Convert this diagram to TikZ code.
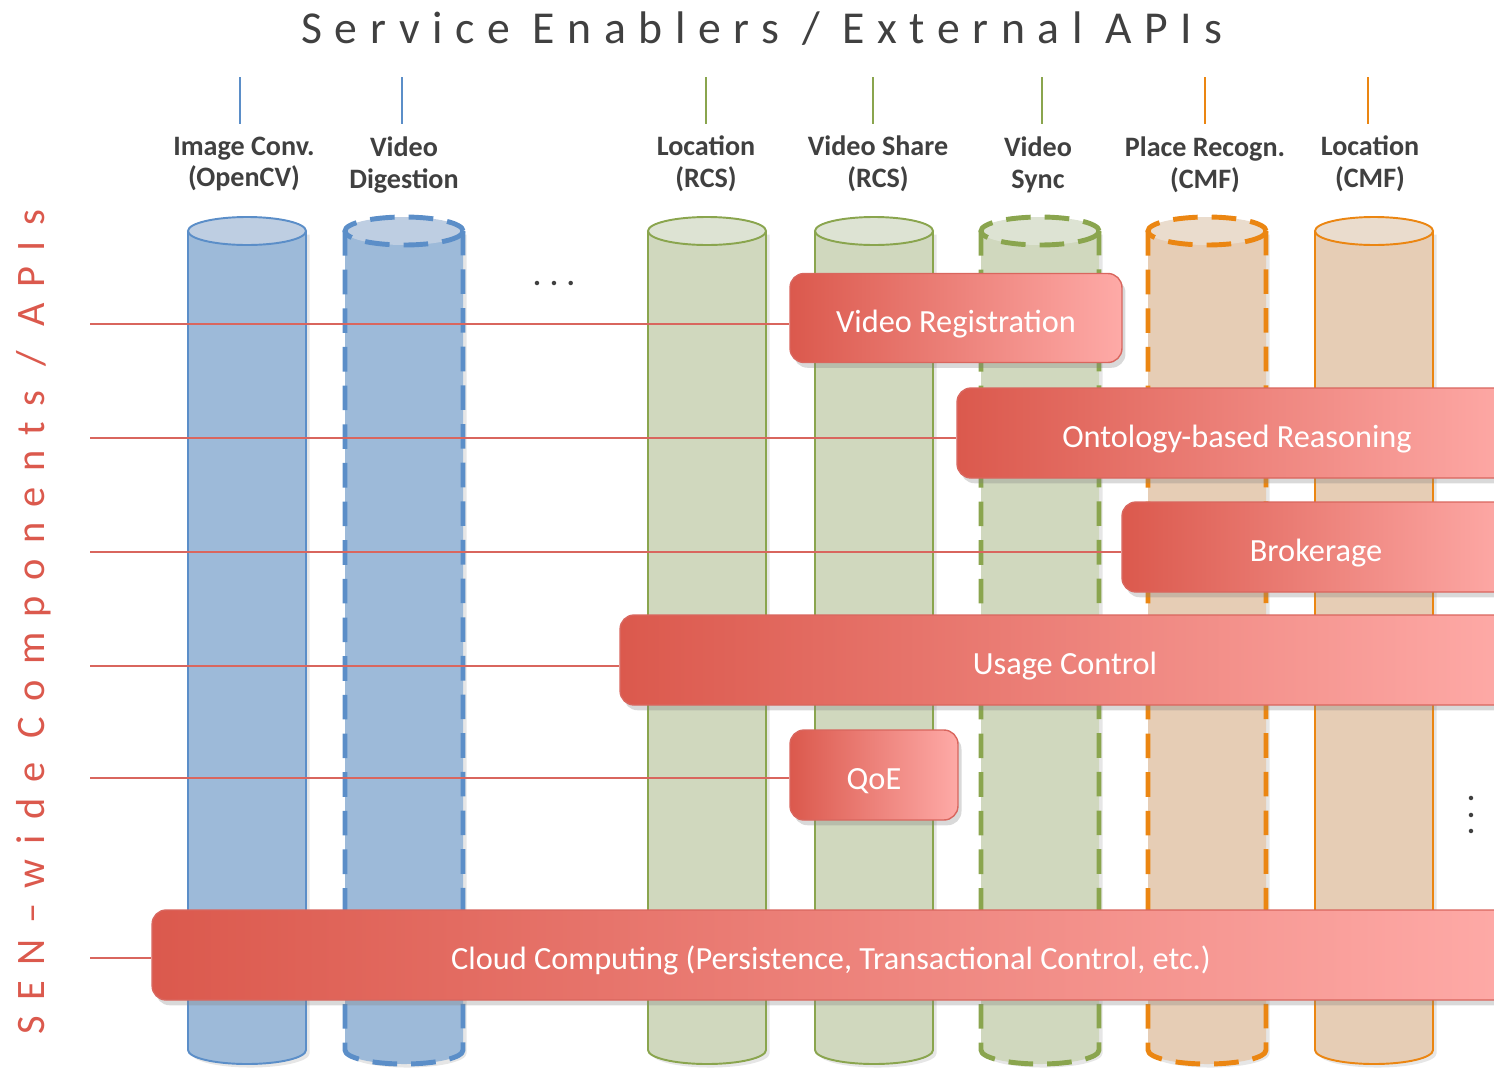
\documentclass[tikz,border=0pt]{standalone}
\usepackage{fontspec}
\setmainfont{Carlito}
\usetikzlibrary{shadows}
\definecolor{B1}{RGB}{157,186,217}
\definecolor{B2}{RGB}{190,206,226}
\definecolor{B3}{RGB}{91,142,200}
\definecolor{G1}{RGB}{208,216,190}
\definecolor{G2}{RGB}{221,227,211}
\definecolor{G3}{RGB}{138,165,78}
\definecolor{O1}{RGB}{230,205,181}
\definecolor{O2}{RGB}{234,220,205}
\definecolor{O3}{RGB}{235,134,18}
\definecolor{R1}{RGB}{219,89,77}
\definecolor{R2}{RGB}{254,170,167}
\definecolor{R3}{RGB}{217,102,94}
\definecolor{T1}{RGB}{64,64,64}

\begin{document}
\begin{tikzpicture}[x=0.02cm, y=-0.02cm,
    lab/.style={font=\fontsize{16}{18}\selectfont\bfseries, text=T1, align=center},
    tick/.style={line width=0.8pt},
    cylline/.style={line width=1.1pt},
    cyldash/.style={line width=2.8pt, dash pattern=on 14pt off 8pt},
    body/.style={drop shadow={opacity=.2, shadow xshift=2pt, shadow yshift=-2pt}},
    box/.style={draw=R3, line width=0.8pt, rounded corners=8pt, left color=R1, right color=R2,
      text=white, font=\fontsize{18.4}{22}\selectfont, inner sep=0pt, text height=16pt, text depth=0pt,
      drop shadow={opacity=.3, shadow xshift=2pt, shadow yshift=-3pt}},
    link/.style={R3, line width=0.9pt}]
      \useasboundingbox (0,0) rectangle (1494,1069);
      \clip (0,0) rectangle (1494,1069);
      % titles
      \node[font=\fontsize{26}{30}\selectfont\addfontfeature{LetterSpace=27.5}, text=T1, anchor=base] (top) at (762,43) {Service Enablers / External  APIs};
      \node[font=\fontsize{23}{26}\selectfont\addfontfeature{LetterSpace=38}, text=R1, rotate=90, anchor=base] (side) at (44,622) {SEN–wide Components / APIs};
      % columns
      \fill[B1, body] (188,231) -- (188,1050) arc[start angle=180, end angle=0, x radius=59, y radius=14] -- (306,231) -- cycle;
      \draw[B3, cylline] (188,231) -- (188,1050) arc[start angle=180, end angle=0, x radius=59, y radius=14] -- (306,231);
      \draw[B3, cylline, fill=B2] (247,231) ellipse[x radius=59, y radius=14];
      \fill[B1, body] (345,231) -- (345,1050) arc[start angle=180, end angle=0, x radius=59, y radius=14] -- (463,231) -- cycle;
      \draw[B3, cyldash] (345,231) -- (345,1050) arc[start angle=180, end angle=0, x radius=59, y radius=14] -- (463,231);
      \draw[B3, cyldash, fill=B2] (404,231) ellipse[x radius=59, y radius=14];
      \fill[G1, body] (648,231) -- (648,1050) arc[start angle=180, end angle=0, x radius=59, y radius=14] -- (766,231) -- cycle;
      \draw[G3, cylline] (648,231) -- (648,1050) arc[start angle=180, end angle=0, x radius=59, y radius=14] -- (766,231);
      \draw[G3, cylline, fill=G2] (707,231) ellipse[x radius=59, y radius=14];
      \fill[G1, body] (815,231) -- (815,1050) arc[start angle=180, end angle=0, x radius=59, y radius=14] -- (933,231) -- cycle;
      \draw[G3, cylline] (815,231) -- (815,1050) arc[start angle=180, end angle=0, x radius=59, y radius=14] -- (933,231);
      \draw[G3, cylline, fill=G2] (874,231) ellipse[x radius=59, y radius=14];
      \fill[G1, body] (981,231) -- (981,1050) arc[start angle=180, end angle=0, x radius=59, y radius=14] -- (1099,231) -- cycle;
      \draw[G3, cyldash] (981,231) -- (981,1050) arc[start angle=180, end angle=0, x radius=59, y radius=14] -- (1099,231);
      \draw[G3, cyldash, fill=G2] (1040,231) ellipse[x radius=59, y radius=14];
      \fill[O1, body] (1148,231) -- (1148,1050) arc[start angle=180, end angle=0, x radius=59, y radius=14] -- (1266,231) -- cycle;
      \draw[O3, cyldash] (1148,231) -- (1148,1050) arc[start angle=180, end angle=0, x radius=59, y radius=14] -- (1266,231);
      \draw[O3, cyldash, fill=O2] (1207,231) ellipse[x radius=59, y radius=14];
      \fill[O1, body] (1315,231) -- (1315,1050) arc[start angle=180, end angle=0, x radius=59, y radius=14] -- (1433,231) -- cycle;
      \draw[O3, cylline] (1315,231) -- (1315,1050) arc[start angle=180, end angle=0, x radius=59, y radius=14] -- (1433,231);
      \draw[O3, cylline, fill=O2] (1374,231) ellipse[x radius=59, y radius=14];
      % column labels
      \node[lab] (img) at (244,164) {Image Conv.\\(OpenCV)};
      \node[lab] (dig) at (404,165) {Video\\Digestion};
      \node[lab] (locr) at (706,164) {Location\\(RCS)};
      \node[lab] (share) at (878,164) {Video Share\\(RCS)};
      \node[lab] (sync) at (1038,165) {Video\\Sync};
      \node[lab] (place) at (1205,165) {Place Recogn.\\(CMF)};
      \node[lab] (locc) at (1370,164) {Location\\(CMF)};
      \coordinate (t1a) at (240,77); \coordinate (t1b) at (240,124);
      \coordinate (t2a) at (402,77); \coordinate (t2b) at (402,124);
      \coordinate (t3a) at (706,77); \coordinate (t3b) at (706,124);
      \coordinate (t4a) at (873,77); \coordinate (t4b) at (873,124);
      \coordinate (t5a) at (1042,77); \coordinate (t5b) at (1042,124);
      \coordinate (t6a) at (1205,77); \coordinate (t6b) at (1205,124);
      \coordinate (t7a) at (1368,77); \coordinate (t7b) at (1368,124);
      \draw[tick, B3] (t1a) -- (t1b);
      \draw[tick, B3] (t2a) -- (t2b);
      \draw[tick, G3] (t3a) -- (t3b);
      \draw[tick, G3] (t4a) -- (t4b);
      \draw[tick, G3] (t5a) -- (t5b);
      \draw[tick, O3] (t6a) -- (t6b);
      \draw[tick, O3] (t7a) -- (t7b);
      \node[font=\fontsize{17}{18}\selectfont\bfseries, text=T1] (hdots) at (554,283) {. . .};
      \node[font=\fontsize{17}{18}\selectfont\bfseries, text=T1, rotate=-90] (vdots) at (1471,815) {. . .};
      % components
      \node[box, minimum width=6.64cm, minimum height=1.78cm] (vr) at (956,318) {Video Registration};
      \node[box, minimum width=11.2cm, minimum height=1.8cm] (onto) at (1237,433) {Ontology-based Reasoning};
      \node[box, minimum width=7.76cm, minimum height=1.8cm] (brok) at (1316,547) {Brokerage};
      \node[box, minimum width=17.8cm, minimum height=1.8cm] (usage) at (1065,660) {Usage Control};
      \node[box, minimum width=3.36cm, minimum height=1.8cm] (qoe) at (874,775) {QoE};
      \node[box, minimum width=27.16cm, minimum height=1.8cm] (cloud) at (831,955) {Cloud Computing (Persistence, Transactional Control, etc.)};
      \coordinate (s1) at (90,324);
      \coordinate (s2) at (90,438);
      \coordinate (s3) at (90,552);
      \coordinate (s4) at (90,666);
      \coordinate (s5) at (90,778);
      \coordinate (s6) at (90,958);
      \draw[link] (s1) -- (s1 -| vr.west);
      \draw[link] (s2) -- (s2 -| onto.west);
      \draw[link] (s3) -- (s3 -| brok.west);
      \draw[link] (s4) -- (s4 -| usage.west);
      \draw[link] (s5) -- (s5 -| qoe.west);
      \draw[link] (s6) -- (s6 -| cloud.west);
    \end{tikzpicture}
\end{document}
